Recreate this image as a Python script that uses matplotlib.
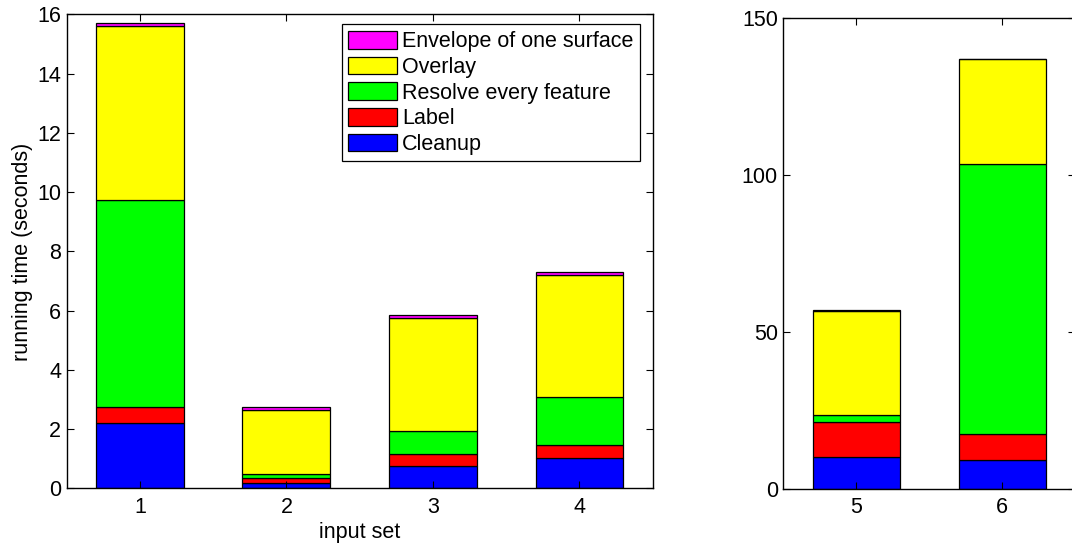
import numpy as np
import matplotlib
matplotlib.use("Agg")
import matplotlib.pyplot as plt

plt.rcParams['font.family'] = ['Liberation Sans', 'DejaVu Sans']

# running time per stage (seconds), small inputs and large inputs
sets_small = [1, 2, 3, 4]
sets_large = [5, 6]

stage_names = ["Cleanup", "Label", "Resolve every feature", "Overlay", "Envelope of one surface"]
stage_colors = ["#0000ff", "#ff0000", "#00ff00", "#ffff00", "#ff00ff"]

cleanup_small = [2.21, 0.19, 0.75, 1.04]
label_small = [0.55, 0.15, 0.41, 0.43]
resolve_small = [6.99, 0.14, 0.79, 1.62]
overlay_small = [5.85, 2.18, 3.82, 4.11]
envelope_small = [0.12, 0.08, 0.08, 0.11]

cleanup_large = [10.3, 9.3]
label_large = [11.1, 8.2]
resolve_large = [2.2, 85.9]
overlay_large = [33.2, 33.3]
envelope_large = [0.3, 0.3]

small = [cleanup_small, label_small, resolve_small, overlay_small, envelope_small]
large = [cleanup_large, label_large, resolve_large, overlay_large, envelope_large]

FS = 15.5

fig = plt.figure(figsize=(10.72, 5.43), dpi=100)
ax1 = fig.add_axes([0.0622, 0.1004, 0.5467, 0.873])
ax2 = fig.add_axes([0.7307, 0.0994, 0.2724, 0.868])


def stacked(ax, x, series):
    bottom = np.zeros(len(x))
    bars = []
    for vals, name, col in zip(series, stage_names, stage_colors):
        b = ax.bar(x, vals, width=0.6, bottom=bottom, color=col,
                   edgecolor="black", linewidth=0.9, label=name)
        bars.append(b)
        bottom += np.array(vals)
    return bars


bars = stacked(ax1, sets_small, small)
stacked(ax2, sets_large, large)

ax1.set_xlim(0.5, 4.5)
ax1.set_ylim(0, 16)
ax1.set_xticks(sets_small)
ax1.set_yticks(np.arange(0, 17, 2))
ax1.set_xlabel("input set", fontsize=FS, labelpad=3)
ax1.set_ylabel("running time (seconds)", fontsize=FS, labelpad=3)

ax2.set_xlim(4.5, 6.5)
ax2.set_ylim(0, 150)
ax2.set_xticks(sets_large)
ax2.set_yticks([0, 50, 100, 150])

for ax in (ax1, ax2):
    ax.tick_params(direction="in", top=True, right=True, length=5,
                   width=0.8, labelsize=FS)
    ax.tick_params(axis="y", pad=4)
    ax.tick_params(axis="x", pad=6)
    for sp in ax.spines.values():
        sp.set_linewidth(1.0)

leg = ax1.legend(bars[::-1], stage_names[::-1], loc="upper right",
                 bbox_to_anchor=(0.978, 0.979), borderaxespad=0,
                 fontsize=FS, fancybox=False, framealpha=1, edgecolor="black",
                 handlelength=2.25, handleheight=0.9, handletextpad=0.25,
                 labelspacing=0.2, borderpad=0.3)
leg.get_frame().set_linewidth(0.9)

fig.savefig("out.png", dpi=100)
